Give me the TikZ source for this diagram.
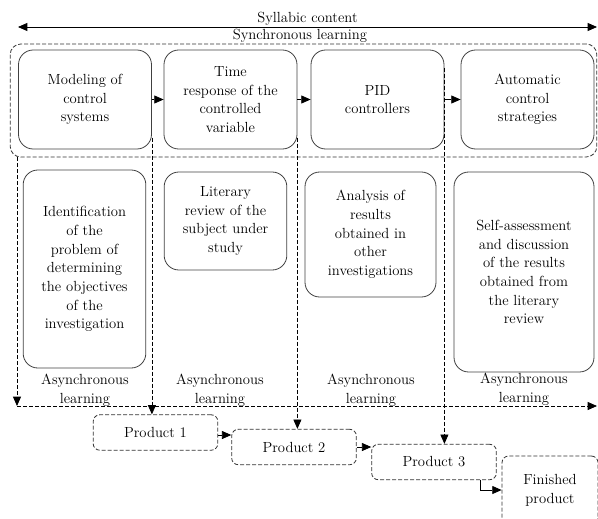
\documentclass[tikz,border=0pt]{standalone}
\usetikzlibrary{arrows.meta,calc}

\begin{document}
\begin{tikzpicture}[x=0.75pt, y=-0.75pt, line width=0.6pt,
    font=\fontsize{11pt}{14pt}\selectfont,
    stage/.style={draw=black!75, rounded corners=11pt, align=center, inner sep=2pt},
    task/.style={draw=black!75, rounded corners=11pt, align=center, inner sep=2pt, minimum width=92pt},
    prod/.style={draw=black!80, dashline, rounded corners=5pt, align=center, minimum width=93.5pt, minimum height=26.6pt},
    dashline/.style={dash pattern=on 3pt off 1.5pt},
    tip/.style={-{Triangle[length=7pt,width=6pt]}},
    lbl/.style={align=center, inner sep=1pt}]
    \useasboundingbox (0,0) rectangle (598,518);

    % syllabic content
    \coordinate (sl) at (18,27);
    \coordinate (sr) at (597,27);
    \draw[{Triangle[length=7pt,width=6pt]}-{Triangle[length=7pt,width=6pt]}] (sl) -- (sr)
        node[midway, above, lbl] (syl) {Syllabic content};

    % synchronous block
    \node[draw=black!80, dashline, rounded corners=8pt, minimum width=440pt, minimum height=84.75pt] (sync) at (303.5,100.5) {};
    \node[lbl] (synclbl) at (300,36) {Synchronous learning};

    \node[stage, minimum width=99.75pt, minimum height=74.25pt] (model) at (85,99.5) {Modeling of\\control\\systems};
    \node[stage, minimum width=99.75pt, minimum height=74.25pt] (time) at (230.5,99.5) {Time\\response of the\\controlled\\variable};
    \node[stage, minimum width=99.75pt, minimum height=74.25pt] (pid) at (377.5,99.5) {PID\\controllers};
    \node[stage, minimum width=99.75pt, minimum height=74.25pt] (auto) at (527.5,99.5) {Automatic\\control\\strategies};

    \draw[tip] (model) -- (time);
    \draw[tip] (time) -- (pid);
    \draw[tip] (pid) -- (auto);

    % asynchronous tasks
    \node[task, minimum height=148.5pt] (ident) at (84.5,269) {Identification\\of the\\problem of\\determining\\the objectives\\of the\\investigation};
    \node[task, minimum height=73.5pt] (review) at (225.5,221) {Literary\\review of the\\subject under\\study};
    \node[task, minimum width=98.25pt, minimum height=93.75pt] (analysis) at (370.5,234.5) {Analysis of\\results\\obtained in\\other\\investigations};
    \node[task, minimum width=105pt, minimum height=150pt] (self) at (524,272) {Self-assessment\\and discussion\\of the results\\obtained from\\the literary\\review};

    \node[lbl] (a1) at (85,390) {Asynchronous\\learning};
    \node[lbl] (a2) at (220,390) {Asynchronous\\learning};
    \node[lbl] (a3) at (371,390) {Asynchronous\\learning};
    \node[lbl] (a4) at (524,389) {Asynchronous\\learning};

    % products
    \node[prod] (p1) at (155.5,432.5) {Product 1};
    \node[prod] (p2) at (294,447) {Product 2};
    \node[prod] (p3) at (434,462) {Product 3};
    \node[prod, minimum width=72pt, minimum height=51pt] (fin) at (550,490) {Finished\\product};

    % timeline
    \coordinate (l0) at (17,157);
    \coordinate (l1) at (17,406);
    \coordinate (r1) at (597,406);
    \draw[dashline, tip] (l0) -- (l1);
    \draw[dashline, tip] (l1) -- (r1);

    \coordinate (d1) at ($(model.east)+(0,38)$);
    \coordinate (d2) at ($(time.east)+(0,38)$);
    \coordinate (d3) at ($(pid.east)+(0,-32)$);
    \draw[dashline, tip] (d1) -- (d1 |- p1.north);
    \draw[dashline, tip] (d2) -- (d2 |- p2.north);
    \draw[dashline, tip] (d3) -- (d3 |- p3.north);

    \coordinate (q1) at ($(p1.east)+(0,2.5)$);
    \coordinate (q3) at ($(p3.south)+(46,0)$);
    \draw[tip] (q1) -- (q1 -| p2.west);
    \draw[tip] (p2.east) -- (p2.east -| p3.west);
    \draw[tip] (q3) |- (fin.west);
\end{tikzpicture}
\end{document}
